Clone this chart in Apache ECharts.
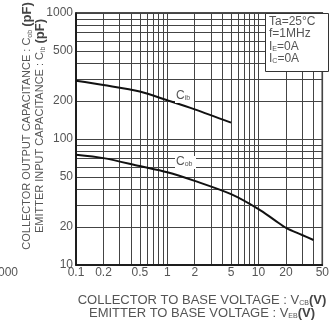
<!DOCTYPE html>
<html>
<head>
<meta charset="utf-8">
<script src="https://cdn.jsdelivr.net/npm/echarts@6/dist/echarts.min.js"></script>
<style>
  html, body { margin: 0; padding: 0; background: #fff; }
  #chart { width: 332px; height: 322px; }
</style>
</head>
<body>
<div id="chart"></div>
<script>
// values
var cibVolts = [0.1, 0.2, 0.5, 1, 2, 5];
var cibValues = [290, 268, 238, 203, 172, 135];
var cobVolts = [0.1, 0.2, 0.5, 1, 2, 5, 10, 15, 20, 30, 40];
var cobValues = [75, 70.5, 61, 54.5, 46.5, 36.5, 27.8, 22.7, 19.7, 17.3, 15.8];
var xGrid = [0.1, 0.2, 0.3, 0.4, 0.5, 0.6, 0.7, 0.8, 0.9, 1, 2, 3, 4, 5, 6, 7, 8, 9, 10, 20, 30, 40, 50];
var xLabels = [0.1, 0.2, 0.5, 1, 2, 5, 10, 20, 50];
var yGrid = [10, 20, 30, 40, 50, 60, 70, 80, 90, 100, 200, 300, 400, 500, 600, 700, 800, 900, 1000];
var yLabels = [10, 20, 50, 100, 200, 500, 1000];
var conditions = ['Ta=25°C', 'f=1MHz', 'I{s|E}=0A', 'I{s|C}=0A'];

var chart = echarts.init(document.getElementById('chart'));

function pairs(xs, ys) {
  return xs.map(function (x, i) { return [x, ys[i]]; });
}

// subscript + bold unit styles for the rich texts
var rich = {
  s: { fontSize: 7, fill: '#555', verticalAlign: 'bottom', padding: [0, 0, 0, 0] },
  b: { fontSize: 13, fontWeight: 'bold', fill: '#444' }
};

var option = {
  animation: false,
  grid: { left: 76, top: 13, width: 252, height: 252, show: true, borderColor: '#111', borderWidth: 1.5, backgroundColor: '#fff' },
  xAxis: {
    type: 'log', logBase: 10, min: 0.1, max: 50,
    axisLine: { lineStyle: { color: '#111', width: 1.5 } },
    axisTick: { show: false, customValues: xGrid },
    splitLine: { show: true, lineStyle: { color: '#444', width: 1 } },
    axisLabel: { customValues: xLabels, margin: 2, fontFamily: 'Liberation Sans', fontSize: 12, color: '#555',
      alignMinLabel: 'center', alignMaxLabel: 'center',
      formatter: function (v) { return String(+v.toPrecision(3)); } }
  },
  yAxis: {
    type: 'log', logBase: 10, min: 10, max: 1000,
    axisLine: { lineStyle: { color: '#111', width: 1.5 } },
    axisTick: { show: false, customValues: yGrid },
    splitLine: { show: true, lineStyle: { color: '#444', width: 1 } },
    axisLabel: { customValues: yLabels, margin: 3, fontFamily: 'Liberation Sans', fontSize: 12, color: '#555',
      formatter: function (v) { return String(Math.round(v)); } }
  },
  series: [
    {
      name: 'Cib', type: 'line', data: pairs(cibVolts, cibValues), smooth: 0.3,
      showSymbol: false, lineStyle: { color: '#111', width: 2 }, z: 5
    },
    {
      name: 'Cob', type: 'line', data: pairs(cobVolts, cobValues), smooth: 0.3,
      showSymbol: false, lineStyle: { color: '#111', width: 2 }, z: 5
    }
  ],
  graphic: [
    { type: 'rect', left: 265, top: 13, shape: { width: 63, height: 58 }, style: { fill: '#fff', stroke: '#333', lineWidth: 1 }, z: 10 },
    { type: 'text', left: 269, top: 15, z: 11, style: { text: conditions.join('\n'), lineHeight: 12.5, font: '12px "Liberation Sans"', fill: '#555', rich: rich } },
    { type: 'rect', left: 175, top: 90, shape: { width: 19, height: 13 }, style: { fill: '#fff' }, z: 10 },
    { type: 'text', left: 176, top: 90, z: 11, style: { text: 'C{s|ib}', font: '12px "Liberation Sans"', fill: '#555', rich: rich } },
    { type: 'rect', left: 175, top: 156, shape: { width: 21, height: 13 }, style: { fill: '#fff' }, z: 10 },
    { type: 'text', left: 176, top: 156, z: 11, style: { text: 'C{s|ob}', font: '12px "Liberation Sans"', fill: '#555', rich: rich } },
    { type: 'text', x: 27, y: 126, rotation: Math.PI / 2, z: 11,
      style: { text: 'COLLECTOR OUTPUT CAPACITANCE : C{s|ob} {b|(pF)}', align: 'center', verticalAlign: 'middle', font: '11px "Liberation Sans"', fill: '#555', rich: rich } },
    { type: 'text', x: 40, y: 126, rotation: Math.PI / 2, z: 11,
      style: { text: 'EMITTER INPUT CAPACITANCE : C{s|ib} {b|(pF)}', align: 'center', verticalAlign: 'middle', font: '11px "Liberation Sans"', fill: '#555', rich: rich } },
    { type: 'text', x: 202, y: 300, z: 11,
      style: { text: 'COLLECTOR TO BASE VOLTAGE : V{s|CB}{b|(V)}', align: 'center', verticalAlign: 'middle', font: '13px "Liberation Sans"', fill: '#555', rich: rich } },
    { type: 'text', x: 202, y: 313, z: 11,
      style: { text: 'EMITTER TO BASE VOLTAGE : V{s|EB}{b|(V)}', align: 'center', verticalAlign: 'middle', font: '13px "Liberation Sans"', fill: '#555', rich: rich } },
    { type: 'text', x: -2, y: 273, z: 11, style: { text: '000', verticalAlign: 'middle', font: '12px "Liberation Sans"', fill: '#555' } }
  ]
};

chart.setOption(option);
</script>
</body>
</html>
